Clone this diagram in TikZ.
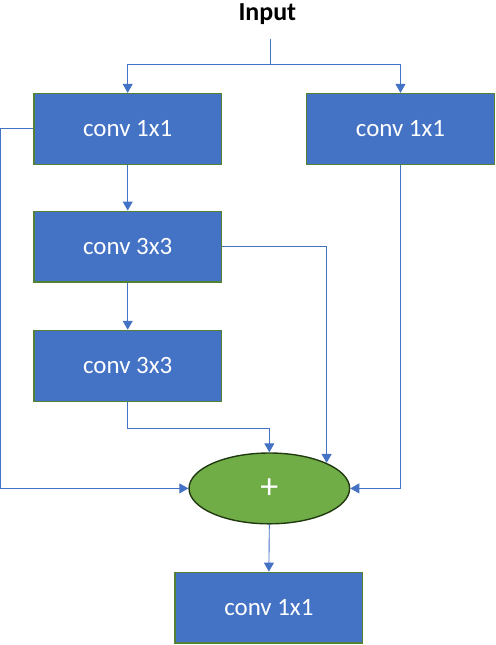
\documentclass[tikz,border=0pt]{standalone}
\usepackage{fontspec}
\setmainfont{Carlito}
\usetikzlibrary{arrows.meta,shapes.geometric}

\definecolor{convblue}{HTML}{4472C4}
\definecolor{convedge}{HTML}{548235}
\definecolor{sumgreen}{HTML}{70AD47}
\definecolor{sumedge}{HTML}{213A12}

\tikzset{
  convbox/.style={draw=convedge, line width=1.2pt, fill=convblue, text=white,
    minimum width=188pt, minimum height=71pt, inner sep=0pt, font=\fontsize{25}{29}\selectfont},
  sumnode/.style={ellipse, draw=sumedge, line width=1.4pt, fill=sumgreen, text=white,
    minimum width=161pt, minimum height=71pt, inner sep=0pt, font=\fontsize{36}{40}\selectfont},
  link/.style={draw=convblue, line width=0.9pt, -{Triangle[width=10pt,length=9pt]}}
}

\begin{document}
\begin{tikzpicture}[x=1pt, y=-1pt]
\path (0,0) rectangle (497,645);
\node[anchor=base, font=\fontsize{26}{30}\selectfont\bfseries] (input) at (268,18.5) {Input};
\coordinate (top) at (271,37);
\coordinate (split) at (271,63);
\node[convbox] (conv1a) at (128,127.5) {conv 1x1};
\node[convbox] (conv1b) at (401.5,127.5) {conv 1x1};
\node[convbox] (conv3a) at (128,245.5) {conv 3x3};
\node[convbox] (conv3b) at (128,365) {conv 3x3};
\node[sumnode] (sum) at (270,488) {+};
\node[convbox] (conv1c) at (269.5,607.5) {conv 1x1};
\draw[draw=convblue, line width=0.9pt] (top) -- (split);
\draw[link] (split) -| (conv1a.north);
\draw[link] (split) -| (conv1b.north);
\draw[link] (conv1a.west) -- ++(-33,0) |- (sum.west);
\draw[link] (conv1a.south) -- (conv3a.north);
\draw[link] (conv3a.south) -- (conv3b.north);
\draw[link] (conv3b.south) -- ++(0,27) -| (sum.north);
\draw[link] (conv3a.east) -| (sum.24);
\draw[link] (conv1b.south) |- (sum.east);
\draw[link] (sum.south) -- (conv1c.north);
\end{tikzpicture}
\end{document}
